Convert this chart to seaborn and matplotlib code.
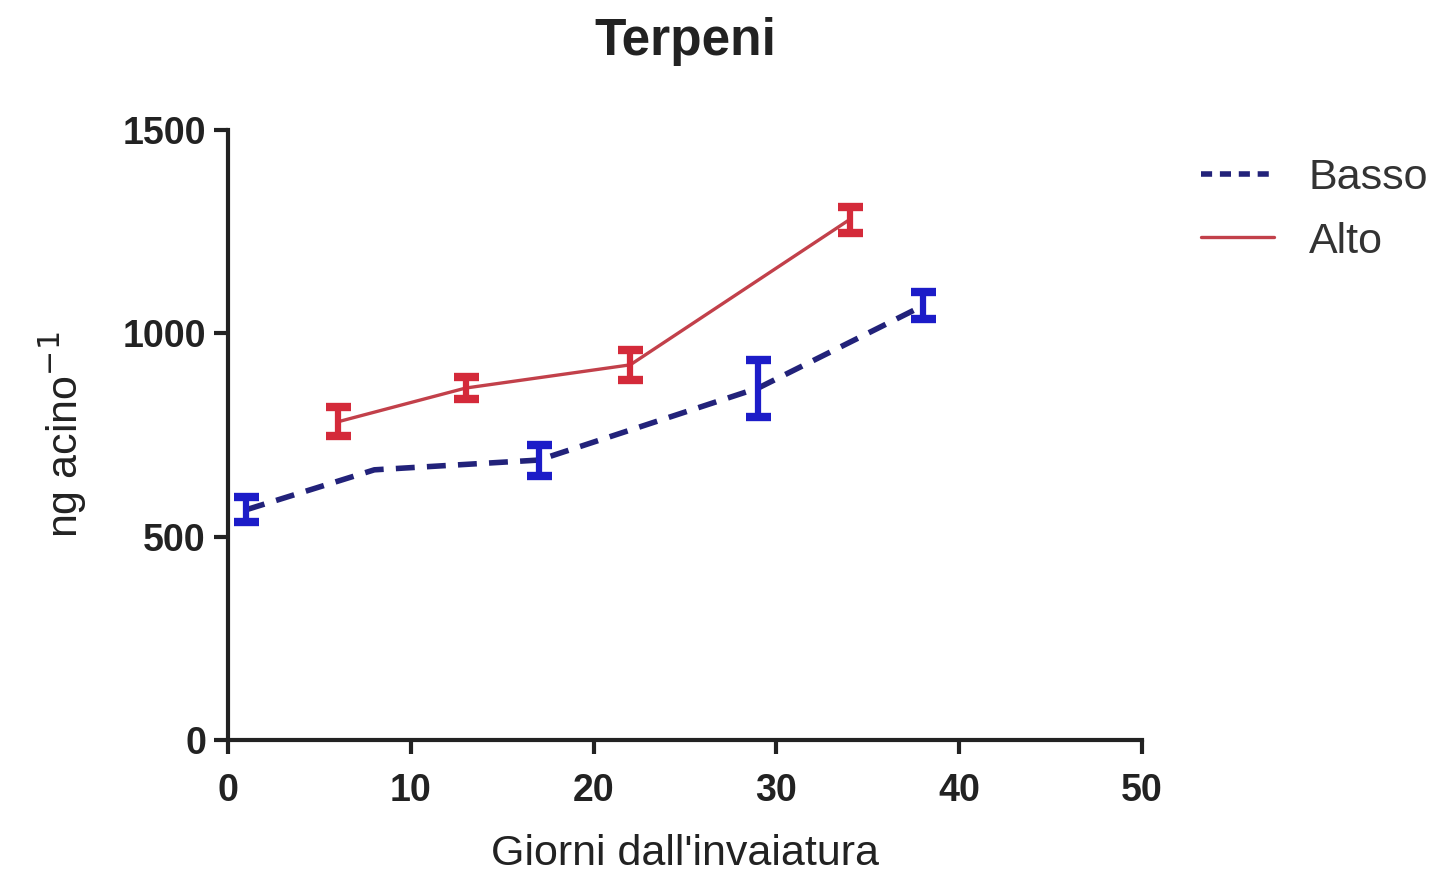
import matplotlib
matplotlib.use("Agg")
import matplotlib.pyplot as plt
import seaborn as sns
import pandas as pd
import numpy as np
from matplotlib.lines import Line2D

# Data
basso_days = [1, 8, 17, 29, 38]
basso_vals = [566, 664, 688, 865, 1067]
basso_err = [30, 0, 38, 70, 33]

alto_days = [6, 13, 22, 34]
alto_vals = [782, 865, 922, 1279]
alto_err = [36, 26, 37, 32]

sns.set_theme(style="ticks")
plt.rcParams['font.family'] = ['Liberation Sans', 'DejaVu Sans']

df = pd.concat([
    pd.DataFrame({"Giorni": basso_days, "val": basso_vals, "Gruppo": "Basso"}),
    pd.DataFrame({"Giorni": alto_days, "val": alto_vals, "Gruppo": "Alto"}),
])

fig = plt.figure(figsize=(14.53, 8.82), dpi=100)
ax = fig.add_axes([0.157, 0.161, 0.629, 0.692])

line_colors = {"Basso": "#22227a", "Alto": "#c2404a"}
line_widths = {"Basso": 4.0, "Alto": 2.4}
sns.lineplot(data=df[df.Gruppo == "Basso"], x="Giorni", y="val",
             color=line_colors["Basso"], ax=ax, legend=False,
             linewidth=line_widths["Basso"])
ax.lines[-1].set_dashes((3.4, 2.2))
sns.lineplot(data=df[df.Gruppo == "Alto"], x="Giorni", y="val",
             color=line_colors["Alto"], ax=ax, legend=False,
             linewidth=line_widths["Alto"])

err_colors = {"Basso": "#1c1cc8", "Alto": "#d42a3a"}
for name, d, v, e in [("Basso", basso_days, basso_vals, basso_err),
                      ("Alto", alto_days, alto_vals, alto_err)]:
    d = np.array(d); v = np.array(v); e = np.array(e)
    m = e > 0
    ax.errorbar(d[m], v[m], yerr=e[m], fmt="none", ecolor=err_colors[name],
                elinewidth=4.5, capsize=9, capthick=6, zorder=3)

ax.set_xlim(0, 50)
ax.set_ylim(0, 1500)
ax.set_xticks([0, 10, 20, 30, 40, 50])
ax.set_yticks([0, 500, 1000, 1500])
sns.despine(ax=ax)
for s in ["left", "bottom"]:
    ax.spines[s].set_linewidth(3)
    ax.spines[s].set_color("#222222")
ax.tick_params(axis="both", length=10, width=3, color="#222222", labelsize=27)
ax.tick_params(axis="x", pad=14)
ax.tick_params(axis="y", pad=6)
for lab in ax.get_xticklabels() + ax.get_yticklabels():
    lab.set_fontweight("bold")
    lab.set_color("#222222")

ax.set_xlabel("Giorni dall'invaiatura", fontsize=31, color="#222222", labelpad=18)
ax.set_ylabel("ng acino$^{-1}$", fontsize=31, color="#222222", labelpad=24)
ax.set_title("Terpeni", fontsize=37, fontweight="bold", color="#222222", pad=54)

handles = [Line2D([], [], color=line_colors["Basso"], lw=4.0, dashes=(2.0, 1.4)),
           Line2D([], [], color=line_colors["Alto"], lw=2.4)]
fig.legend(handles, ["Basso", "Alto"], loc="upper left", bbox_to_anchor=(0.8, 0.865),
           frameon=False, fontsize=31, handlelength=1.7, handletextpad=0.8,
           labelspacing=0.55, labelcolor="#333333")

fig.savefig("out.png", dpi=100)
